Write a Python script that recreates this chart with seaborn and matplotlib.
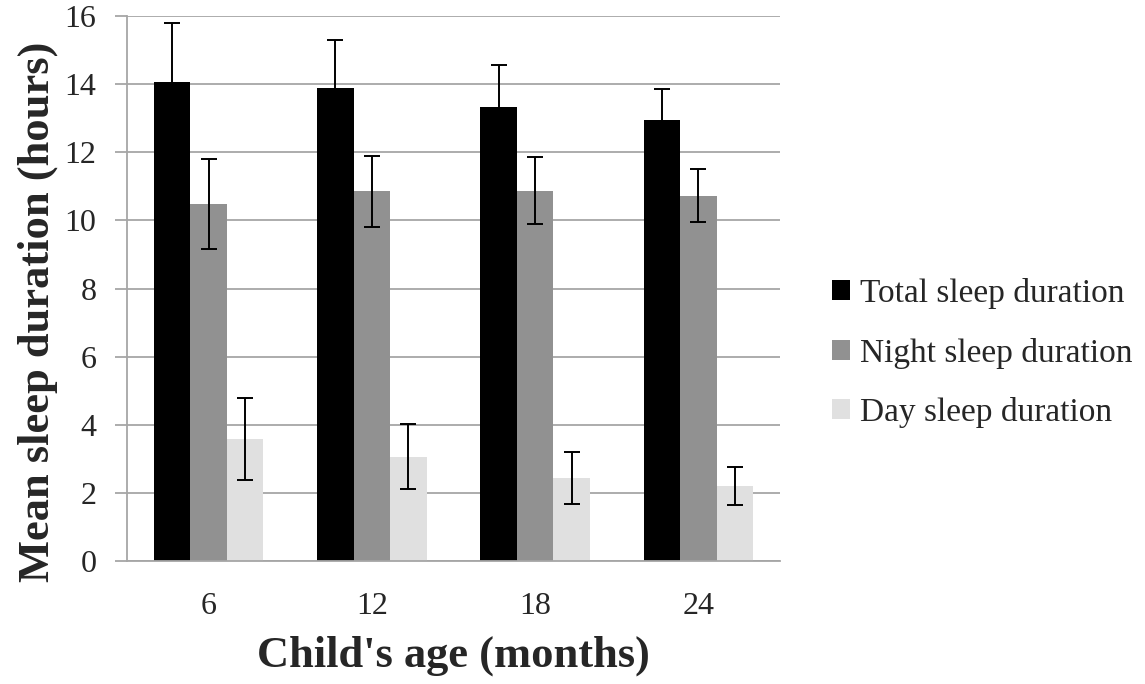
import matplotlib
matplotlib.use('Agg')
import matplotlib.pyplot as plt
import seaborn as sns
import pandas as pd
import numpy as np

# ---- data ----
ages = ['6', '12', '18', '24']
series = ['Total sleep duration', 'Night sleep duration', 'Day sleep duration']
total_mean = [14.06, 13.89, 13.32, 12.95]
total_err = [1.74, 1.42, 1.25, 0.92]
night_mean = [10.48, 10.85, 10.87, 10.73]
night_err = [1.32, 1.03, 0.98, 0.77]
day_mean = [3.59, 3.06, 2.44, 2.20]
day_err = [1.21, 0.96, 0.76, 0.57]
y_ticks = [0, 2, 4, 6, 8, 10, 12, 14, 16]
colors = ['#000000', '#919191', '#E0E0E0']
x_title = "Child's age (months)"
y_title = "Mean sleep duration (hours)"

sns.set_style('white')
plt.rcParams['font.family'] = ['Liberation Serif', 'DejaVu Serif']

df = pd.DataFrame({
    'age': ages * 3,
    'series': np.repeat(series, len(ages)),
    'value': total_mean + night_mean + day_mean,
})

W, H = 1145, 684
fig = plt.figure(figsize=(W / 100, H / 100), dpi=100)
ax = fig.add_axes([127 / W, 1 - 561 / H, (780 - 127) / W, (561 - 16) / H])

sns.barplot(data=df, x='age', y='value', hue='series', order=ages,
            hue_order=series, palette=colors, width=0.67, gap=0,
            errorbar=None, linewidth=0, saturation=1, ax=ax, legend=True)

grey = '#A6A6A6'
for cont, errs in zip(ax.containers, [total_err, night_err, day_err]):
    xs = [b.get_x() + b.get_width() / 2 for b in cont]
    ys = [b.get_height() for b in cont]
    ax.errorbar(xs, ys, yerr=errs, fmt='none', ecolor='black',
                elinewidth=1.4, capsize=5.5, capthick=1.4, zorder=4)

ax.set_ylim(0, 16)
ax.set_xlim(-0.5, len(ages) - 0.5)
ax.set_yticks(y_ticks)
ax.set_yticklabels([str(t) for t in y_ticks])
ax.yaxis.grid(True, color=grey, lw=1.3)
ax.xaxis.grid(False)
ax.set_axisbelow(True)

for s in ['top', 'right']:
    ax.spines[s].set_visible(False)
for s in ['left', 'bottom']:
    ax.spines[s].set_color(grey)
    ax.spines[s].set_linewidth(1.3)

ax.set_xticks(range(len(ages)))
ax.set_xticklabels(ages)
ax.set_xticks(np.arange(-0.5, len(ages), 1.0), minor=True)
ax.tick_params(axis='x', which='major', length=0, labelsize=23, pad=22)
ax.tick_params(axis='x', which='minor', length=10, color=grey, width=1.3, direction='out')
ax.tick_params(axis='y', which='major', length=9, color=grey, width=1.3,
               direction='out', labelsize=23, pad=13, left=True)

ax.set_xlabel(x_title, fontsize=32, fontweight='bold', labelpad=11)
ax.set_ylabel(y_title, fontsize=32, fontweight='bold', labelpad=5)
ax.yaxis.label.set_y(0.458)

handles, labels = ax.get_legend_handles_labels()
ax.get_legend().remove()
fig.legend(handles, labels, loc='center left',
           bbox_to_anchor=(832 / W, 1 - 353 / H), frameon=False, fontsize=24,
           handlelength=0.55, handleheight=0.55, handletextpad=0.3,
           labelspacing=0.86, borderpad=0, borderaxespad=0)

fig.savefig('out.png', dpi=100)
